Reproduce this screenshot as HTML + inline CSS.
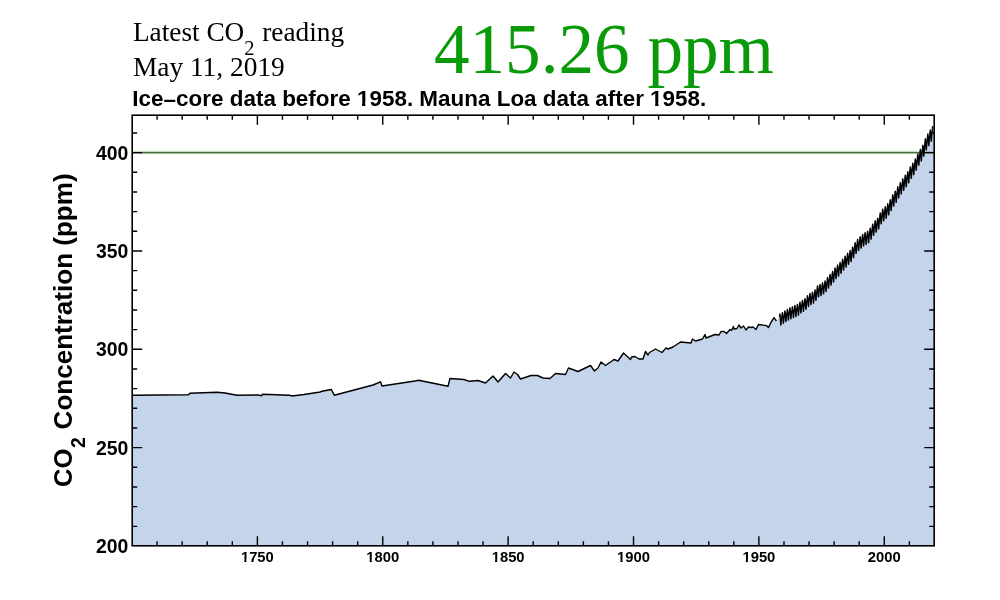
<!DOCTYPE html>
<html><head><meta charset="utf-8"><style>
html,body{margin:0;padding:0;background:#fff;width:1000px;height:600px;overflow:hidden}
svg{display:block;filter:blur(0.3px)}
.sans{font-family:"Liberation Sans",sans-serif;font-weight:bold;fill:#000}
.serif{font-family:"Liberation Serif",serif;fill:#000}
</style></head><body>
<svg width="1000" height="600" viewBox="0 0 1000 600">
<rect width="1000" height="600" fill="#fff"/>
<path d="M132.00,546.00 L132.00,395.20 L188.50,394.80 L190.00,393.20 L217.00,392.20 L225.00,393.00 L237.00,395.30 L258.00,395.00 L261.50,395.80 L262.50,394.20 L289.60,395.20 L292.00,396.00 L304.00,394.50 L320.20,392.00 L322.00,391.20 L331.30,389.50 L334.30,395.20 L373.00,385.00 L380.50,381.80 L382.00,386.00 L415.00,381.00 L418.50,380.20 L448.00,386.20 L450.00,378.50 L464.00,379.50 L469.50,381.30 L478.00,380.50 L485.50,383.00 L493.00,376.00 L498.00,382.00 L505.50,373.50 L510.50,378.00 L514.00,372.00 L517.50,374.50 L520.50,379.00 L531.00,375.50 L537.50,375.50 L543.00,378.00 L550.00,378.50 L555.50,373.50 L565.50,374.50 L568.50,368.00 L578.00,371.50 L590.50,365.50 L594.50,371.00 L598.00,368.00 L601.00,362.00 L605.50,365.50 L614.00,359.50 L618.00,361.00 L623.50,353.00 L630.50,359.50 L631.50,357.00 L635.00,356.50 L639.00,359.00 L643.00,359.00 L645.50,351.50 L648.00,355.00 L649.50,352.50 L655.50,349.00 L662.00,352.50 L666.00,348.00 L668.00,349.00 L673.00,347.00 L680.50,342.00 L691.00,343.00 L692.50,339.00 L695.50,341.00 L702.50,339.00 L705.00,334.50 L706.00,338.00 L715.00,334.50 L719.00,335.00 L721.00,331.50 L724.00,331.50 L726.50,333.50 L730.00,329.50 L731.50,330.50 L733.50,326.50 L734.00,329.00 L737.00,328.50 L739.00,325.00 L741.00,328.00 L743.50,326.00 L746.00,330.00 L748.50,327.00 L751.00,327.50 L753.00,327.00 L756.00,329.50 L758.50,324.50 L766.40,325.60 L768.40,327.60 L771.20,322.00 L774.00,317.60 L776.40,321.00 L779.48,316.86 L779.69,314.92 L779.90,314.03 L780.11,315.27 L780.32,318.04 L780.53,321.63 L780.74,324.69 L780.95,324.92 L781.15,322.49 L781.36,320.42 L781.57,318.35 L781.78,317.15 L781.99,315.78 L782.20,313.70 L782.41,312.69 L782.62,313.81 L782.83,316.51 L783.04,320.08 L783.24,323.12 L783.45,323.33 L783.66,320.86 L783.87,318.76 L784.08,316.65 L784.29,315.43 L784.50,314.02 L784.71,311.91 L784.92,310.87 L785.13,311.96 L785.33,314.67 L785.54,318.29 L785.75,321.38 L785.96,321.61 L786.17,319.18 L786.38,317.10 L786.59,315.02 L786.80,313.83 L787.01,312.46 L787.21,310.38 L787.42,309.36 L787.63,310.49 L787.84,313.23 L788.05,316.84 L788.26,319.93 L788.47,320.15 L788.68,317.70 L788.89,315.60 L789.10,313.50 L789.30,312.29 L789.51,310.91 L789.72,308.80 L789.93,307.77 L790.14,308.89 L790.35,311.65 L790.56,315.32 L790.77,318.46 L790.98,318.73 L791.19,316.31 L791.39,314.25 L791.60,312.19 L791.81,311.03 L792.02,309.68 L792.23,307.62 L792.44,306.63 L792.65,307.80 L792.86,310.58 L793.07,314.25 L793.28,317.38 L793.48,317.63 L793.69,315.20 L793.90,313.12 L794.11,311.04 L794.32,309.85 L794.53,308.49 L794.74,306.40 L794.95,305.40 L795.16,306.55 L795.36,309.35 L795.57,313.07 L795.78,316.24 L795.99,316.53 L796.20,314.12 L796.41,312.07 L796.62,310.02 L796.83,308.87 L797.04,307.53 L797.25,305.47 L797.45,304.50 L797.66,305.70 L797.87,308.45 L798.08,312.02 L798.29,315.06 L798.50,315.20 L798.71,312.63 L798.92,310.42 L799.13,308.21 L799.34,306.90 L799.54,305.42 L799.75,303.20 L799.96,302.08 L800.17,303.13 L800.38,305.85 L800.59,309.53 L800.80,312.67 L801.01,312.90 L801.22,310.42 L801.42,308.29 L801.63,306.17 L801.84,304.95 L802.05,303.55 L802.26,301.43 L802.47,300.39 L802.68,301.53 L802.89,304.31 L803.10,307.98 L803.31,311.11 L803.51,311.33 L803.72,308.82 L803.93,306.68 L804.14,304.53 L804.35,303.29 L804.56,301.87 L804.77,299.72 L804.98,298.67 L805.19,299.80 L805.40,302.51 L805.60,306.08 L805.81,309.11 L806.02,309.21 L806.23,306.58 L806.44,304.32 L806.65,302.05 L806.86,300.70 L807.07,299.16 L807.28,296.89 L807.48,295.71 L807.69,296.73 L807.90,299.44 L808.11,303.11 L808.32,306.23 L808.53,306.42 L808.74,303.87 L808.95,301.68 L809.16,299.50 L809.37,298.22 L809.57,296.77 L809.78,294.58 L809.99,293.48 L810.20,294.59 L810.41,297.39 L810.62,301.14 L810.83,304.33 L811.04,304.59 L811.25,302.11 L811.46,299.98 L811.66,297.86 L811.87,296.65 L812.08,295.26 L812.29,293.13 L812.50,292.11 L812.71,293.29 L812.92,296.09 L813.13,299.76 L813.34,302.89 L813.54,303.07 L813.75,300.50 L813.96,298.29 L814.17,296.08 L814.38,294.79 L814.59,293.31 L814.80,291.10 L815.01,289.99 L815.22,291.09 L815.43,293.77 L815.63,297.28 L815.84,300.23 L816.05,300.24 L816.26,297.47 L816.47,295.08 L816.68,292.68 L816.89,291.21 L817.10,289.55 L817.31,287.15 L817.52,285.86 L817.72,286.79 L817.93,289.52 L818.14,293.32 L818.35,296.57 L818.56,296.86 L818.77,294.37 L818.98,292.26 L819.19,290.14 L819.40,288.94 L819.60,287.56 L819.81,285.44 L820.02,284.43 L820.23,285.65 L820.44,288.50 L820.65,292.24 L820.86,295.43 L821.07,295.65 L821.28,293.08 L821.49,290.89 L821.69,288.70 L821.90,287.43 L822.11,285.97 L822.32,283.77 L822.53,282.69 L822.74,283.84 L822.95,286.67 L823.16,290.42 L823.37,293.62 L823.58,293.84 L823.78,291.27 L823.99,289.07 L824.20,286.87 L824.41,285.59 L824.62,284.14 L824.83,281.93 L825.04,280.85 L825.25,282.00 L825.46,284.76 L825.66,288.39 L825.87,291.45 L826.08,291.53 L826.29,288.81 L826.50,286.47 L826.71,284.12 L826.92,282.70 L827.13,281.10 L827.34,278.75 L827.55,277.52 L827.75,278.54 L827.96,281.26 L828.17,284.93 L828.38,288.04 L828.59,288.16 L828.80,285.47 L829.01,283.15 L829.22,280.83 L829.43,279.45 L829.64,277.88 L829.84,275.56 L830.05,274.36 L830.26,275.42 L830.47,278.17 L830.68,281.88 L830.89,285.02 L831.10,285.16 L831.31,282.48 L831.52,280.18 L831.72,277.88 L831.93,276.52 L832.14,274.96 L832.35,272.66 L832.56,271.48 L832.77,272.56 L832.98,275.30 L833.19,278.94 L833.40,282.01 L833.61,282.08 L833.81,279.32 L834.02,276.93 L834.23,274.55 L834.44,273.10 L834.65,271.47 L834.86,269.08 L835.07,267.82 L835.28,268.83 L835.49,271.58 L835.70,275.32 L835.90,278.50 L836.11,278.65 L836.32,275.98 L836.53,273.68 L836.74,271.38 L836.95,270.02 L837.16,268.47 L837.37,266.17 L837.58,265.00 L837.78,266.10 L837.99,268.91 L838.20,272.66 L838.41,275.85 L838.62,276.01 L838.83,273.33 L839.04,271.02 L839.25,268.72 L839.46,267.36 L839.67,265.82 L839.87,263.51 L840.08,262.34 L840.29,263.45 L840.50,266.25 L840.71,269.97 L840.92,273.12 L841.13,273.24 L841.34,270.51 L841.55,268.16 L841.76,265.81 L841.96,264.41 L842.17,262.81 L842.38,260.46 L842.59,259.24 L842.80,260.31 L843.01,263.09 L843.22,266.83 L843.43,269.99 L843.64,270.11 L843.84,267.37 L844.05,265.02 L844.26,262.66 L844.47,261.25 L844.68,259.66 L844.89,257.29 L845.10,256.08 L845.31,257.15 L845.52,259.95 L845.73,263.72 L845.93,266.91 L846.14,267.05 L846.35,264.33 L846.56,261.99 L846.77,259.65 L846.98,258.26 L847.19,256.68 L847.40,254.34 L847.61,253.14 L847.82,254.24 L848.02,257.07 L848.23,260.88 L848.44,264.11 L848.65,264.28 L848.86,261.58 L849.07,259.26 L849.28,256.94 L849.49,255.58 L849.70,254.02 L849.90,251.70 L850.11,250.52 L850.32,251.65 L850.53,254.47 L850.74,258.21 L850.95,261.38 L851.16,261.47 L851.37,258.69 L851.58,256.28 L851.79,253.88 L851.99,252.44 L852.20,250.80 L852.41,248.39 L852.62,247.14 L852.83,248.20 L853.04,250.94 L853.25,254.59 L853.46,257.66 L853.67,257.66 L853.88,254.76 L854.08,252.26 L854.29,249.75 L854.50,248.20 L854.71,246.46 L854.92,243.95 L855.13,242.59 L855.34,243.55 L855.55,246.32 L855.76,250.12 L855.97,253.34 L856.17,253.47 L856.38,250.71 L856.59,248.33 L856.80,245.95 L857.01,244.54 L857.22,242.93 L857.43,240.55 L857.64,239.32 L857.85,240.43 L858.05,243.29 L858.26,247.15 L858.47,250.42 L858.68,250.60 L858.89,247.88 L859.10,245.54 L859.31,243.20 L859.52,241.83 L859.73,240.26 L859.94,237.92 L860.14,236.74 L860.35,237.89 L860.56,240.79 L860.77,244.67 L860.98,247.96 L861.19,248.15 L861.40,245.42 L861.61,243.09 L861.82,240.76 L862.03,239.39 L862.23,237.83 L862.44,235.49 L862.65,234.31 L862.86,235.48 L863.07,238.42 L863.28,242.37 L863.49,245.73 L863.70,245.98 L863.91,243.32 L864.11,241.04 L864.32,238.76 L864.53,237.45 L864.74,235.95 L864.95,233.66 L865.16,232.55 L865.37,233.78 L865.58,236.78 L865.79,240.77 L866.00,244.17 L866.20,244.46 L866.41,241.82 L866.62,239.56 L866.83,237.31 L867.04,236.03 L867.25,234.55 L867.46,232.30 L867.67,231.21 L867.88,232.47 L868.09,235.41 L868.29,239.23 L868.50,242.47 L868.71,242.58 L868.92,239.75 L869.13,237.32 L869.34,234.88 L869.55,233.42 L869.76,231.76 L869.97,229.32 L870.17,228.06 L870.38,229.15 L870.59,231.98 L870.80,235.77 L871.01,238.98 L871.22,239.04 L871.43,236.17 L871.64,233.68 L871.85,231.20 L872.06,229.69 L872.26,227.99 L872.47,225.50 L872.68,224.19 L872.89,225.24 L873.10,228.08 L873.31,231.91 L873.52,235.16 L873.73,235.26 L873.94,232.41 L874.15,229.95 L874.35,227.50 L874.56,226.02 L874.77,224.35 L874.98,221.88 L875.19,220.60 L875.40,221.69 L875.61,224.61 L875.82,228.57 L876.03,231.93 L876.23,232.14 L876.44,229.40 L876.65,227.04 L876.86,224.69 L877.07,223.32 L877.28,221.75 L877.49,219.39 L877.70,218.22 L877.91,219.42 L878.12,222.25 L878.32,225.92 L878.53,228.99 L878.74,228.90 L878.95,225.84 L879.16,223.18 L879.37,220.52 L879.58,218.84 L879.79,216.96 L880.00,214.30 L880.21,212.82 L880.41,213.72 L880.62,216.51 L880.83,220.40 L881.04,223.69 L881.25,223.81 L881.46,220.96 L881.67,218.50 L881.88,216.05 L882.09,214.58 L882.29,212.91 L882.50,210.45 L882.71,209.18 L882.92,210.30 L883.13,213.24 L883.34,217.23 L883.55,220.61 L883.76,220.82 L883.97,218.04 L884.18,215.66 L884.38,213.28 L884.59,211.90 L884.80,210.31 L885.01,207.92 L885.22,206.74 L885.43,207.94 L885.64,210.90 L885.85,214.83 L886.06,218.16 L886.27,218.29 L886.47,215.44 L886.68,212.99 L886.89,210.54 L887.10,209.07 L887.31,207.42 L887.52,204.96 L887.73,203.70 L887.94,204.83 L888.15,207.73 L888.35,211.57 L888.56,214.82 L888.77,214.87 L888.98,211.92 L889.19,209.37 L889.40,206.82 L889.61,205.27 L889.82,203.51 L890.03,200.96 L890.24,199.61 L890.44,200.66 L890.65,203.48 L890.86,207.28 L891.07,210.47 L891.28,210.46 L891.49,207.44 L891.70,204.82 L891.91,202.21 L892.12,200.59 L892.33,198.77 L892.53,196.14 L892.74,194.73 L892.95,195.72 L893.16,198.59 L893.37,202.52 L893.58,205.86 L893.79,205.98 L894.00,203.09 L894.21,200.59 L894.41,198.10 L894.62,196.61 L894.83,194.92 L895.04,192.42 L895.25,191.13 L895.46,192.26 L895.67,195.15 L895.88,199.01 L896.09,202.26 L896.30,202.29 L896.50,199.30 L896.71,196.71 L896.92,194.12 L897.13,192.53 L897.34,190.75 L897.55,188.15 L897.76,186.77 L897.97,187.81 L898.18,190.68 L898.39,194.58 L898.59,197.87 L898.80,197.93 L899.01,194.96 L899.22,192.39 L899.43,189.83 L899.64,188.27 L899.85,186.50 L900.06,183.93 L900.27,182.58 L900.47,183.65 L900.68,186.56 L900.89,190.51 L901.10,193.84 L901.31,193.94 L901.52,190.99 L901.73,188.46 L901.94,185.92 L902.15,184.39 L902.36,182.66 L902.56,180.12 L902.77,178.79 L902.98,179.90 L903.19,182.85 L903.40,186.82 L903.61,190.17 L903.82,190.28 L904.03,187.35 L904.24,184.82 L904.45,182.29 L904.65,180.77 L904.86,179.05 L905.07,176.51 L905.28,175.19 L905.49,176.32 L905.70,179.28 L905.91,183.26 L906.12,186.62 L906.33,186.73 L906.53,183.78 L906.74,181.24 L906.95,178.70 L907.16,177.18 L907.37,175.45 L907.58,172.90 L907.79,171.58 L908.00,172.71 L908.21,175.63 L908.42,179.51 L908.62,182.78 L908.83,182.78 L909.04,179.72 L909.25,177.07 L909.46,174.42 L909.67,172.79 L909.88,170.95 L910.09,168.29 L910.30,166.87 L910.51,167.89 L910.71,170.82 L910.92,174.83 L911.13,178.23 L911.34,178.35 L911.55,175.41 L911.76,172.87 L911.97,170.33 L912.18,168.81 L912.39,167.09 L912.59,164.54 L912.80,163.23 L913.01,164.38 L913.22,167.34 L913.43,171.29 L913.64,174.62 L913.85,174.67 L914.06,171.64 L914.27,169.02 L914.48,166.41 L914.68,164.81 L914.89,163.01 L915.10,160.39 L915.31,159.00 L915.52,160.08 L915.73,162.97 L915.94,166.85 L916.15,170.12 L916.36,170.09 L916.57,166.98 L916.77,164.28 L916.98,161.58 L917.19,159.90 L917.40,158.02 L917.61,155.31 L917.82,153.85 L918.03,154.85 L918.24,157.76 L918.45,161.74 L918.66,165.10 L918.86,165.17 L919.07,162.14 L919.28,159.52 L919.49,156.90 L919.70,155.31 L919.91,153.51 L920.12,150.89 L920.33,149.51 L920.54,150.61 L920.74,153.56 L920.95,157.55 L921.16,160.91 L921.37,160.97 L921.58,157.92 L921.79,155.29 L922.00,152.66 L922.21,151.06 L922.42,149.25 L922.63,146.61 L922.83,145.22 L923.04,146.31 L923.25,149.17 L923.46,152.96 L923.67,156.13 L923.88,155.99 L924.09,152.74 L924.30,149.90 L924.51,147.06 L924.72,145.25 L924.92,143.24 L925.13,140.39 L925.34,138.79 L925.55,139.69 L925.76,142.55 L925.97,146.53 L926.18,149.89 L926.39,149.93 L926.60,146.85 L926.80,144.19 L927.01,141.52 L927.22,139.89 L927.43,138.05 L927.64,135.38 L927.85,133.96 L928.06,135.04 L928.27,138.03 L928.48,142.08 L928.69,145.51 L928.89,145.60 L929.10,142.57 L929.31,139.95 L929.52,137.34 L929.73,135.76 L929.94,133.98 L930.15,131.36 L930.36,129.99 L930.57,131.13 L930.78,134.07 L930.98,137.98 L931.19,141.26 L931.40,141.20 L931.61,138.00 L931.82,135.23 L932.03,132.45 L932.24,130.72 L932.45,128.77 L932.66,125.99 L934.00,127.99 L934.00,546.00 Z" fill="#c4d5eb"/>
<path d="M132.2,150.70H917" stroke="#ecfbe8" stroke-width="1.5" fill="none"/>
<path d="M132.2,152.60H934.2" stroke="#46743f" stroke-width="1.6" fill="none"/>
<path d="M132.00,395.20 L188.50,394.80 L190.00,393.20 L217.00,392.20 L225.00,393.00 L237.00,395.30 L258.00,395.00 L261.50,395.80 L262.50,394.20 L289.60,395.20 L292.00,396.00 L304.00,394.50 L320.20,392.00 L322.00,391.20 L331.30,389.50 L334.30,395.20 L373.00,385.00 L380.50,381.80 L382.00,386.00 L415.00,381.00 L418.50,380.20 L448.00,386.20 L450.00,378.50 L464.00,379.50 L469.50,381.30 L478.00,380.50 L485.50,383.00 L493.00,376.00 L498.00,382.00 L505.50,373.50 L510.50,378.00 L514.00,372.00 L517.50,374.50 L520.50,379.00 L531.00,375.50 L537.50,375.50 L543.00,378.00 L550.00,378.50 L555.50,373.50 L565.50,374.50 L568.50,368.00 L578.00,371.50 L590.50,365.50 L594.50,371.00 L598.00,368.00 L601.00,362.00 L605.50,365.50 L614.00,359.50 L618.00,361.00 L623.50,353.00 L630.50,359.50 L631.50,357.00 L635.00,356.50 L639.00,359.00 L643.00,359.00 L645.50,351.50 L648.00,355.00 L649.50,352.50 L655.50,349.00 L662.00,352.50 L666.00,348.00 L668.00,349.00 L673.00,347.00 L680.50,342.00 L691.00,343.00 L692.50,339.00 L695.50,341.00 L702.50,339.00 L705.00,334.50 L706.00,338.00 L715.00,334.50 L719.00,335.00 L721.00,331.50 L724.00,331.50 L726.50,333.50 L730.00,329.50 L731.50,330.50 L733.50,326.50 L734.00,329.00 L737.00,328.50 L739.00,325.00 L741.00,328.00 L743.50,326.00 L746.00,330.00 L748.50,327.00 L751.00,327.50 L753.00,327.00 L756.00,329.50 L758.50,324.50 L766.40,325.60 L768.40,327.60 L771.20,322.00 L774.00,317.60 L776.40,321.00" stroke="#000" stroke-width="1.4" fill="none" stroke-linejoin="round"/>
<path d="M779.48,316.86 L779.69,314.92 L779.90,314.03 L780.11,315.27 L780.32,318.04 L780.53,321.63 L780.74,324.69 L780.95,324.92 L781.15,322.49 L781.36,320.42 L781.57,318.35 L781.78,317.15 L781.99,315.78 L782.20,313.70 L782.41,312.69 L782.62,313.81 L782.83,316.51 L783.04,320.08 L783.24,323.12 L783.45,323.33 L783.66,320.86 L783.87,318.76 L784.08,316.65 L784.29,315.43 L784.50,314.02 L784.71,311.91 L784.92,310.87 L785.13,311.96 L785.33,314.67 L785.54,318.29 L785.75,321.38 L785.96,321.61 L786.17,319.18 L786.38,317.10 L786.59,315.02 L786.80,313.83 L787.01,312.46 L787.21,310.38 L787.42,309.36 L787.63,310.49 L787.84,313.23 L788.05,316.84 L788.26,319.93 L788.47,320.15 L788.68,317.70 L788.89,315.60 L789.10,313.50 L789.30,312.29 L789.51,310.91 L789.72,308.80 L789.93,307.77 L790.14,308.89 L790.35,311.65 L790.56,315.32 L790.77,318.46 L790.98,318.73 L791.19,316.31 L791.39,314.25 L791.60,312.19 L791.81,311.03 L792.02,309.68 L792.23,307.62 L792.44,306.63 L792.65,307.80 L792.86,310.58 L793.07,314.25 L793.28,317.38 L793.48,317.63 L793.69,315.20 L793.90,313.12 L794.11,311.04 L794.32,309.85 L794.53,308.49 L794.74,306.40 L794.95,305.40 L795.16,306.55 L795.36,309.35 L795.57,313.07 L795.78,316.24 L795.99,316.53 L796.20,314.12 L796.41,312.07 L796.62,310.02 L796.83,308.87 L797.04,307.53 L797.25,305.47 L797.45,304.50 L797.66,305.70 L797.87,308.45 L798.08,312.02 L798.29,315.06 L798.50,315.20 L798.71,312.63 L798.92,310.42 L799.13,308.21 L799.34,306.90 L799.54,305.42 L799.75,303.20 L799.96,302.08 L800.17,303.13 L800.38,305.85 L800.59,309.53 L800.80,312.67 L801.01,312.90 L801.22,310.42 L801.42,308.29 L801.63,306.17 L801.84,304.95 L802.05,303.55 L802.26,301.43 L802.47,300.39 L802.68,301.53 L802.89,304.31 L803.10,307.98 L803.31,311.11 L803.51,311.33 L803.72,308.82 L803.93,306.68 L804.14,304.53 L804.35,303.29 L804.56,301.87 L804.77,299.72 L804.98,298.67 L805.19,299.80 L805.40,302.51 L805.60,306.08 L805.81,309.11 L806.02,309.21 L806.23,306.58 L806.44,304.32 L806.65,302.05 L806.86,300.70 L807.07,299.16 L807.28,296.89 L807.48,295.71 L807.69,296.73 L807.90,299.44 L808.11,303.11 L808.32,306.23 L808.53,306.42 L808.74,303.87 L808.95,301.68 L809.16,299.50 L809.37,298.22 L809.57,296.77 L809.78,294.58 L809.99,293.48 L810.20,294.59 L810.41,297.39 L810.62,301.14 L810.83,304.33 L811.04,304.59 L811.25,302.11 L811.46,299.98 L811.66,297.86 L811.87,296.65 L812.08,295.26 L812.29,293.13 L812.50,292.11 L812.71,293.29 L812.92,296.09 L813.13,299.76 L813.34,302.89 L813.54,303.07 L813.75,300.50 L813.96,298.29 L814.17,296.08 L814.38,294.79 L814.59,293.31 L814.80,291.10 L815.01,289.99 L815.22,291.09 L815.43,293.77 L815.63,297.28 L815.84,300.23 L816.05,300.24 L816.26,297.47 L816.47,295.08 L816.68,292.68 L816.89,291.21 L817.10,289.55 L817.31,287.15 L817.52,285.86 L817.72,286.79 L817.93,289.52 L818.14,293.32 L818.35,296.57 L818.56,296.86 L818.77,294.37 L818.98,292.26 L819.19,290.14 L819.40,288.94 L819.60,287.56 L819.81,285.44 L820.02,284.43 L820.23,285.65 L820.44,288.50 L820.65,292.24 L820.86,295.43 L821.07,295.65 L821.28,293.08 L821.49,290.89 L821.69,288.70 L821.90,287.43 L822.11,285.97 L822.32,283.77 L822.53,282.69 L822.74,283.84 L822.95,286.67 L823.16,290.42 L823.37,293.62 L823.58,293.84 L823.78,291.27 L823.99,289.07 L824.20,286.87 L824.41,285.59 L824.62,284.14 L824.83,281.93 L825.04,280.85 L825.25,282.00 L825.46,284.76 L825.66,288.39 L825.87,291.45 L826.08,291.53 L826.29,288.81 L826.50,286.47 L826.71,284.12 L826.92,282.70 L827.13,281.10 L827.34,278.75 L827.55,277.52 L827.75,278.54 L827.96,281.26 L828.17,284.93 L828.38,288.04 L828.59,288.16 L828.80,285.47 L829.01,283.15 L829.22,280.83 L829.43,279.45 L829.64,277.88 L829.84,275.56 L830.05,274.36 L830.26,275.42 L830.47,278.17 L830.68,281.88 L830.89,285.02 L831.10,285.16 L831.31,282.48 L831.52,280.18 L831.72,277.88 L831.93,276.52 L832.14,274.96 L832.35,272.66 L832.56,271.48 L832.77,272.56 L832.98,275.30 L833.19,278.94 L833.40,282.01 L833.61,282.08 L833.81,279.32 L834.02,276.93 L834.23,274.55 L834.44,273.10 L834.65,271.47 L834.86,269.08 L835.07,267.82 L835.28,268.83 L835.49,271.58 L835.70,275.32 L835.90,278.50 L836.11,278.65 L836.32,275.98 L836.53,273.68 L836.74,271.38 L836.95,270.02 L837.16,268.47 L837.37,266.17 L837.58,265.00 L837.78,266.10 L837.99,268.91 L838.20,272.66 L838.41,275.85 L838.62,276.01 L838.83,273.33 L839.04,271.02 L839.25,268.72 L839.46,267.36 L839.67,265.82 L839.87,263.51 L840.08,262.34 L840.29,263.45 L840.50,266.25 L840.71,269.97 L840.92,273.12 L841.13,273.24 L841.34,270.51 L841.55,268.16 L841.76,265.81 L841.96,264.41 L842.17,262.81 L842.38,260.46 L842.59,259.24 L842.80,260.31 L843.01,263.09 L843.22,266.83 L843.43,269.99 L843.64,270.11 L843.84,267.37 L844.05,265.02 L844.26,262.66 L844.47,261.25 L844.68,259.66 L844.89,257.29 L845.10,256.08 L845.31,257.15 L845.52,259.95 L845.73,263.72 L845.93,266.91 L846.14,267.05 L846.35,264.33 L846.56,261.99 L846.77,259.65 L846.98,258.26 L847.19,256.68 L847.40,254.34 L847.61,253.14 L847.82,254.24 L848.02,257.07 L848.23,260.88 L848.44,264.11 L848.65,264.28 L848.86,261.58 L849.07,259.26 L849.28,256.94 L849.49,255.58 L849.70,254.02 L849.90,251.70 L850.11,250.52 L850.32,251.65 L850.53,254.47 L850.74,258.21 L850.95,261.38 L851.16,261.47 L851.37,258.69 L851.58,256.28 L851.79,253.88 L851.99,252.44 L852.20,250.80 L852.41,248.39 L852.62,247.14 L852.83,248.20 L853.04,250.94 L853.25,254.59 L853.46,257.66 L853.67,257.66 L853.88,254.76 L854.08,252.26 L854.29,249.75 L854.50,248.20 L854.71,246.46 L854.92,243.95 L855.13,242.59 L855.34,243.55 L855.55,246.32 L855.76,250.12 L855.97,253.34 L856.17,253.47 L856.38,250.71 L856.59,248.33 L856.80,245.95 L857.01,244.54 L857.22,242.93 L857.43,240.55 L857.64,239.32 L857.85,240.43 L858.05,243.29 L858.26,247.15 L858.47,250.42 L858.68,250.60 L858.89,247.88 L859.10,245.54 L859.31,243.20 L859.52,241.83 L859.73,240.26 L859.94,237.92 L860.14,236.74 L860.35,237.89 L860.56,240.79 L860.77,244.67 L860.98,247.96 L861.19,248.15 L861.40,245.42 L861.61,243.09 L861.82,240.76 L862.03,239.39 L862.23,237.83 L862.44,235.49 L862.65,234.31 L862.86,235.48 L863.07,238.42 L863.28,242.37 L863.49,245.73 L863.70,245.98 L863.91,243.32 L864.11,241.04 L864.32,238.76 L864.53,237.45 L864.74,235.95 L864.95,233.66 L865.16,232.55 L865.37,233.78 L865.58,236.78 L865.79,240.77 L866.00,244.17 L866.20,244.46 L866.41,241.82 L866.62,239.56 L866.83,237.31 L867.04,236.03 L867.25,234.55 L867.46,232.30 L867.67,231.21 L867.88,232.47 L868.09,235.41 L868.29,239.23 L868.50,242.47 L868.71,242.58 L868.92,239.75 L869.13,237.32 L869.34,234.88 L869.55,233.42 L869.76,231.76 L869.97,229.32 L870.17,228.06 L870.38,229.15 L870.59,231.98 L870.80,235.77 L871.01,238.98 L871.22,239.04 L871.43,236.17 L871.64,233.68 L871.85,231.20 L872.06,229.69 L872.26,227.99 L872.47,225.50 L872.68,224.19 L872.89,225.24 L873.10,228.08 L873.31,231.91 L873.52,235.16 L873.73,235.26 L873.94,232.41 L874.15,229.95 L874.35,227.50 L874.56,226.02 L874.77,224.35 L874.98,221.88 L875.19,220.60 L875.40,221.69 L875.61,224.61 L875.82,228.57 L876.03,231.93 L876.23,232.14 L876.44,229.40 L876.65,227.04 L876.86,224.69 L877.07,223.32 L877.28,221.75 L877.49,219.39 L877.70,218.22 L877.91,219.42 L878.12,222.25 L878.32,225.92 L878.53,228.99 L878.74,228.90 L878.95,225.84 L879.16,223.18 L879.37,220.52 L879.58,218.84 L879.79,216.96 L880.00,214.30 L880.21,212.82 L880.41,213.72 L880.62,216.51 L880.83,220.40 L881.04,223.69 L881.25,223.81 L881.46,220.96 L881.67,218.50 L881.88,216.05 L882.09,214.58 L882.29,212.91 L882.50,210.45 L882.71,209.18 L882.92,210.30 L883.13,213.24 L883.34,217.23 L883.55,220.61 L883.76,220.82 L883.97,218.04 L884.18,215.66 L884.38,213.28 L884.59,211.90 L884.80,210.31 L885.01,207.92 L885.22,206.74 L885.43,207.94 L885.64,210.90 L885.85,214.83 L886.06,218.16 L886.27,218.29 L886.47,215.44 L886.68,212.99 L886.89,210.54 L887.10,209.07 L887.31,207.42 L887.52,204.96 L887.73,203.70 L887.94,204.83 L888.15,207.73 L888.35,211.57 L888.56,214.82 L888.77,214.87 L888.98,211.92 L889.19,209.37 L889.40,206.82 L889.61,205.27 L889.82,203.51 L890.03,200.96 L890.24,199.61 L890.44,200.66 L890.65,203.48 L890.86,207.28 L891.07,210.47 L891.28,210.46 L891.49,207.44 L891.70,204.82 L891.91,202.21 L892.12,200.59 L892.33,198.77 L892.53,196.14 L892.74,194.73 L892.95,195.72 L893.16,198.59 L893.37,202.52 L893.58,205.86 L893.79,205.98 L894.00,203.09 L894.21,200.59 L894.41,198.10 L894.62,196.61 L894.83,194.92 L895.04,192.42 L895.25,191.13 L895.46,192.26 L895.67,195.15 L895.88,199.01 L896.09,202.26 L896.30,202.29 L896.50,199.30 L896.71,196.71 L896.92,194.12 L897.13,192.53 L897.34,190.75 L897.55,188.15 L897.76,186.77 L897.97,187.81 L898.18,190.68 L898.39,194.58 L898.59,197.87 L898.80,197.93 L899.01,194.96 L899.22,192.39 L899.43,189.83 L899.64,188.27 L899.85,186.50 L900.06,183.93 L900.27,182.58 L900.47,183.65 L900.68,186.56 L900.89,190.51 L901.10,193.84 L901.31,193.94 L901.52,190.99 L901.73,188.46 L901.94,185.92 L902.15,184.39 L902.36,182.66 L902.56,180.12 L902.77,178.79 L902.98,179.90 L903.19,182.85 L903.40,186.82 L903.61,190.17 L903.82,190.28 L904.03,187.35 L904.24,184.82 L904.45,182.29 L904.65,180.77 L904.86,179.05 L905.07,176.51 L905.28,175.19 L905.49,176.32 L905.70,179.28 L905.91,183.26 L906.12,186.62 L906.33,186.73 L906.53,183.78 L906.74,181.24 L906.95,178.70 L907.16,177.18 L907.37,175.45 L907.58,172.90 L907.79,171.58 L908.00,172.71 L908.21,175.63 L908.42,179.51 L908.62,182.78 L908.83,182.78 L909.04,179.72 L909.25,177.07 L909.46,174.42 L909.67,172.79 L909.88,170.95 L910.09,168.29 L910.30,166.87 L910.51,167.89 L910.71,170.82 L910.92,174.83 L911.13,178.23 L911.34,178.35 L911.55,175.41 L911.76,172.87 L911.97,170.33 L912.18,168.81 L912.39,167.09 L912.59,164.54 L912.80,163.23 L913.01,164.38 L913.22,167.34 L913.43,171.29 L913.64,174.62 L913.85,174.67 L914.06,171.64 L914.27,169.02 L914.48,166.41 L914.68,164.81 L914.89,163.01 L915.10,160.39 L915.31,159.00 L915.52,160.08 L915.73,162.97 L915.94,166.85 L916.15,170.12 L916.36,170.09 L916.57,166.98 L916.77,164.28 L916.98,161.58 L917.19,159.90 L917.40,158.02 L917.61,155.31 L917.82,153.85 L918.03,154.85 L918.24,157.76 L918.45,161.74 L918.66,165.10 L918.86,165.17 L919.07,162.14 L919.28,159.52 L919.49,156.90 L919.70,155.31 L919.91,153.51 L920.12,150.89 L920.33,149.51 L920.54,150.61 L920.74,153.56 L920.95,157.55 L921.16,160.91 L921.37,160.97 L921.58,157.92 L921.79,155.29 L922.00,152.66 L922.21,151.06 L922.42,149.25 L922.63,146.61 L922.83,145.22 L923.04,146.31 L923.25,149.17 L923.46,152.96 L923.67,156.13 L923.88,155.99 L924.09,152.74 L924.30,149.90 L924.51,147.06 L924.72,145.25 L924.92,143.24 L925.13,140.39 L925.34,138.79 L925.55,139.69 L925.76,142.55 L925.97,146.53 L926.18,149.89 L926.39,149.93 L926.60,146.85 L926.80,144.19 L927.01,141.52 L927.22,139.89 L927.43,138.05 L927.64,135.38 L927.85,133.96 L928.06,135.04 L928.27,138.03 L928.48,142.08 L928.69,145.51 L928.89,145.60 L929.10,142.57 L929.31,139.95 L929.52,137.34 L929.73,135.76 L929.94,133.98 L930.15,131.36 L930.36,129.99 L930.57,131.13 L930.78,134.07 L930.98,137.98 L931.19,141.26 L931.40,141.20 L931.61,138.00 L931.82,135.23 L932.03,132.45 L932.24,130.72 L932.45,128.77 L932.66,125.99" stroke="#000" stroke-width="1.35" fill="none" stroke-linejoin="round"/>
<rect x="132.2" y="115.2" width="802.0" height="430.6" fill="none" stroke="#000" stroke-width="1.6"/>
<path d="M132.2,526.33h5M934.2,526.33h-5M132.2,506.66h5M934.2,506.66h-5M132.2,486.99h5M934.2,486.99h-5M132.2,467.32h5M934.2,467.32h-5M132.2,447.65h10M934.2,447.65h-10M132.2,427.98h5M934.2,427.98h-5M132.2,408.31h5M934.2,408.31h-5M132.2,388.64h5M934.2,388.64h-5M132.2,368.97h5M934.2,368.97h-5M132.2,349.30h10M934.2,349.30h-10M132.2,329.63h5M934.2,329.63h-5M132.2,309.96h5M934.2,309.96h-5M132.2,290.29h5M934.2,290.29h-5M132.2,270.62h5M934.2,270.62h-5M132.2,250.95h10M934.2,250.95h-10M132.2,231.28h5M934.2,231.28h-5M132.2,211.61h5M934.2,211.61h-5M132.2,191.94h5M934.2,191.94h-5M132.2,172.27h5M934.2,172.27h-5M132.2,152.60h10M934.2,152.60h-10M132.2,132.93h5M934.2,132.93h-5M157.08,545.8v-4.5M157.08,115.2v4.5M182.15,545.8v-4.5M182.15,115.2v4.5M207.23,545.8v-4.5M207.23,115.2v4.5M232.30,545.8v-4.5M232.30,115.2v4.5M257.38,545.8v-9.5M257.38,115.2v9.5M282.46,545.8v-4.5M282.46,115.2v4.5M307.53,545.8v-4.5M307.53,115.2v4.5M332.61,545.8v-4.5M332.61,115.2v4.5M357.68,545.8v-4.5M357.68,115.2v4.5M382.76,545.8v-9.5M382.76,115.2v9.5M407.84,545.8v-4.5M407.84,115.2v4.5M432.91,545.8v-4.5M432.91,115.2v4.5M457.99,545.8v-4.5M457.99,115.2v4.5M483.06,545.8v-4.5M483.06,115.2v4.5M508.14,545.8v-9.5M508.14,115.2v9.5M533.22,545.8v-4.5M533.22,115.2v4.5M558.29,545.8v-4.5M558.29,115.2v4.5M583.37,545.8v-4.5M583.37,115.2v4.5M608.44,545.8v-4.5M608.44,115.2v4.5M633.52,545.8v-9.5M633.52,115.2v9.5M658.60,545.8v-4.5M658.60,115.2v4.5M683.67,545.8v-4.5M683.67,115.2v4.5M708.75,545.8v-4.5M708.75,115.2v4.5M733.82,545.8v-4.5M733.82,115.2v4.5M758.90,545.8v-9.5M758.90,115.2v9.5M783.98,545.8v-4.5M783.98,115.2v4.5M809.05,545.8v-4.5M809.05,115.2v4.5M834.13,545.8v-4.5M834.13,115.2v4.5M859.20,545.8v-4.5M859.20,115.2v4.5M884.28,545.8v-9.5M884.28,115.2v9.5M909.36,545.8v-4.5M909.36,115.2v4.5" stroke="#000" stroke-width="1.4" fill="none"/>
<g class="sans" font-size="19.4" text-anchor="end"><text x="128.3" y="553.10">200</text><text x="128.3" y="454.75">250</text><text x="128.3" y="356.40">300</text><text x="128.3" y="258.05">350</text><text x="128.3" y="159.70">400</text></g>
<g class="sans" font-size="14.4"><text x="240.90" y="562" textLength="32.95" lengthAdjust="spacingAndGlyphs">1750</text><text x="366.28" y="562" textLength="32.95" lengthAdjust="spacingAndGlyphs">1800</text><text x="491.66" y="562" textLength="32.95" lengthAdjust="spacingAndGlyphs">1850</text><text x="617.04" y="562" textLength="32.95" lengthAdjust="spacingAndGlyphs">1900</text><text x="742.42" y="562" textLength="32.95" lengthAdjust="spacingAndGlyphs">1950</text><text x="867.80" y="562" textLength="32.95" lengthAdjust="spacingAndGlyphs">2000</text></g>
<g class="sans" transform="rotate(-90)">
<text x="-487.1" y="72" font-size="25.7">CO</text>
<text x="-448.1" y="84.7" font-size="19.4">2</text>
<text x="-429.40" y="72" font-size="25.7" textLength="255.95" lengthAdjust="spacingAndGlyphs">Concentration (ppm)</text>
</g>
<text class="sans" x="132.39" y="105.6" font-size="21.3" textLength="573.88" lengthAdjust="spacingAndGlyphs">Ice<tspan dy="1.2">&#8211;</tspan><tspan dy="-1.2">core data before 1958. Mauna Loa data after 1958.</tspan></text>
<text class="serif" x="132.9" y="40.7" font-size="27.3">Latest CO</text>
<text class="serif" x="244.2" y="54.9" font-size="20.5">2</text>
<text class="serif" x="262.2" y="40.7" font-size="27.3">reading</text>
<text class="serif" x="132.9" y="76.4" font-size="27.4">May 11, 2019</text>
<text class="serif" x="433.98" y="73.1" font-size="72.5" textLength="339.93" lengthAdjust="spacingAndGlyphs" style="fill:#089a08">415.26 ppm</text>
<g fill="#fff"><rect x="241.35" y="559.55" width="2.91" height="2.74"/><rect x="246.42" y="559.55" width="2.57" height="2.74"/><rect x="366.73" y="559.55" width="2.91" height="2.74"/><rect x="371.80" y="559.55" width="2.57" height="2.74"/><rect x="492.11" y="559.55" width="2.91" height="2.74"/><rect x="497.18" y="559.55" width="2.57" height="2.74"/><rect x="617.49" y="559.55" width="2.91" height="2.74"/><rect x="622.56" y="559.55" width="2.57" height="2.74"/><rect x="742.87" y="559.55" width="2.91" height="2.74"/><rect x="747.94" y="559.55" width="2.57" height="2.74"/><rect x="357.63" y="101.98" width="4.41" height="4.05"/><rect x="365.32" y="101.98" width="3.89" height="4.05"/><rect x="650.77" y="101.98" width="4.41" height="4.05"/><rect x="658.46" y="101.98" width="3.89" height="4.05"/></g>
</svg>
</body></html>
